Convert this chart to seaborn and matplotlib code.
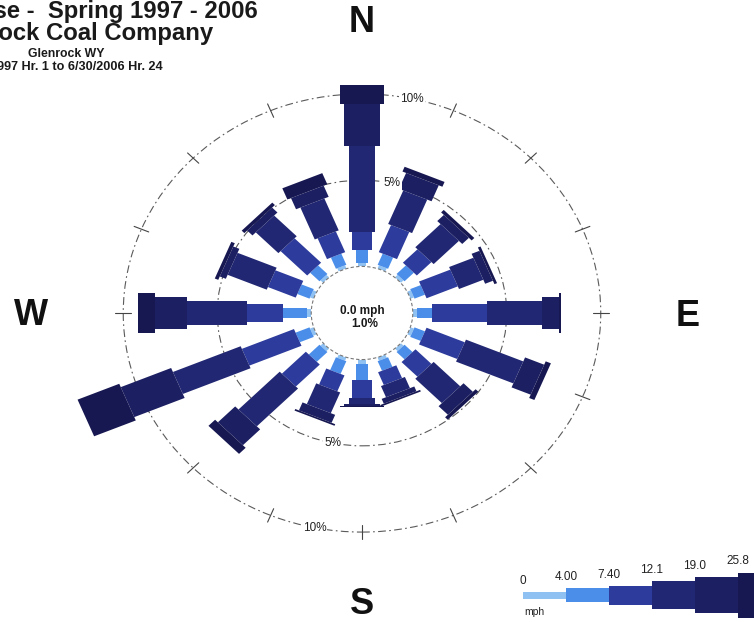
import numpy as np
import matplotlib
matplotlib.use("Agg")
import matplotlib.pyplot as plt
from matplotlib.patches import Circle
from matplotlib.transforms import Affine2D
import seaborn as sns

# ---- data -------------------------------------------------------------
directions = ["N", "NNE", "NE", "ENE", "E", "ESE", "SE", "SSE",
              "S", "SSW", "SW", "WSW", "W", "WNW", "NW", "NNW"]
bearings = np.arange(16) * 22.5

speed_edges = ["0", "4.00", "7.40", "12.1", "19.0", "25.8"]

# frequency (%) of each wind-speed class, per direction (N ... NNW)
freq_0_4 = [0.2, 0.2, 0.2, 0.2, 0.2, 0.2, 0.2, 0.2,
            0.25, 0.2, 0.2, 0.2, 0.2, 0.2, 0.2, 0.2]
freq_4_74 = [0.75, 0.7, 0.7, 0.6, 0.8, 0.6, 0.6, 0.6,
             0.95, 0.8, 0.8, 0.8, 1.3, 0.7, 0.7, 0.7]
freq_74_121 = [1.05, 1.7, 1.1, 1.8, 2.95, 2.2, 1.2, 0.8,
               1.0, 1.0, 1.8, 3.0, 1.9, 1.6, 2.0, 1.3]
freq_121_19 = [5.0, 2.1, 1.9, 1.4, 2.95, 3.3, 2.0, 0.7,
               0.35, 1.3, 3.1, 3.9, 3.2, 2.25, 1.7, 2.0]
freq_19_258 = [2.4, 1.0, 0.5, 0.45, 0.9, 1.1, 0.7, 0.3,
               0.15, 0.5, 1.3, 2.9, 1.7, 0.35, 0.4, 0.7]
freq_258_up = [1.1, 0.3, 0.2, 0.15, 0.1, 0.3, 0.2, 0.1,
               0.05, 0.1, 0.5, 2.4, 0.9, 0.2, 0.2, 0.7]

calm_pct = 1.0
rings = [5, 10]

# ---- styling ----------------------------------------------------------
class_colors = ["#8fc2f2", "#4a8eea", "#2c3b9c", "#212772", "#1c1f62", "#171852"]
class_widths = [0.45, 0.6, 1.05, 1.38, 1.88, 2.3]      # bar thickness, rose units
legend_heights = [7, 14, 19, 28, 36, 45]              # legend bar thickness, px
calm_radius = 2.7                                     # radius of the calm circle

sns.set_theme(style="white")
plt.rcParams["font.family"] = ["Liberation Sans", "DejaVu Sans"]

W_PX, H_PX = 754, 622
CX, CY = 362, 313
SX, SY = 18.8, 17.25          # px per rose unit (x, y)

fig = plt.figure(figsize=(W_PX / 100, H_PX / 100), dpi=100)
fig.patch.set_facecolor("white")

ax = fig.add_axes([0, 0, 1, 1])
ax.set_xlim(-CX / SX, (W_PX - CX) / SX)
ax.set_ylim(-(H_PX - CY) / SY, CY / SY)
ax.set_autoscale_on(False)
ax.axis("off")


def ray(bearing):
    """Transform that lays the x-axis along a compass bearing."""
    return Affine2D().rotate_deg(90 - bearing) + ax.transData


ring_style = (0, (7, 3, 1.5, 3))
for pct in rings:
    ax.add_patch(Circle((0, 0), calm_radius + pct, fill=False,
                        edgecolor="#5a5a5a", lw=0.8, ls=ring_style, zorder=1))

# radial ticks on the outer ring
r_out = calm_radius + rings[-1]
for b in bearings:
    ax.plot([r_out - 0.42, r_out + 0.42], [0, 0], color="#444444", lw=0.8,
            transform=ray(b), zorder=1)

# ring labels
for pct in rings:
    for b in (12, 191.5):
        ax.text(calm_radius + pct, 0, f"{pct}%", transform=ray(b),
                ha="center", va="center", fontsize=8.5, color="#222222",
                bbox=dict(boxstyle="square,pad=0.1", fc="white", ec="none"),
                zorder=4)

# stacked petals
classes = [freq_0_4, freq_4_74, freq_74_121, freq_121_19, freq_19_258, freq_258_up]
table = np.array(classes)
starts = calm_radius + np.vstack([np.zeros(16), np.cumsum(table, axis=0)[:-1]])
for k in range(len(classes)):
    for i, b in enumerate(bearings):
        ax.barh(0, table[k, i], left=starts[k, i], height=class_widths[k],
                color=class_colors[k], linewidth=0, transform=ray(b), zorder=2)

# calm circle
ax.add_patch(Circle((0, 0), calm_radius, facecolor="white", edgecolor="#777777",
                    lw=0.8, ls=(0, (3, 2)), zorder=3))
ax.text(0, 0.1, "0.0 mph", ha="center", va="center", fontsize=8.5,
        fontweight="bold", color="#1a1a1a", zorder=4)
ax.text(0.15, -0.65, f"{calm_pct:.1f}%", ha="center", va="center", fontsize=8.5,
        fontweight="bold", color="#1a1a1a", zorder=4)

# compass letters
for letter, (px, py) in {"N": (362, 22), "S": (362, 605),
                         "W": (31, 315), "E": (688, 316)}.items():
    fig.text(px / W_PX, 1 - py / H_PX, letter, ha="center", va="center",
             fontsize=26, fontweight="bold", color="#111111")

# title block
fig.text(258 / W_PX, 1 - 18 / H_PX, "Wind Rose -  Spring 1997 - 2006",
         ha="right", va="baseline", fontsize=17.2, fontweight="bold", color="#1a1a1a")
fig.text(213 / W_PX, 1 - 40 / H_PX, "Glenrock Coal Company",
         ha="right", va="baseline", fontsize=17.2, fontweight="bold", color="#1a1a1a")
fig.text(66 / W_PX, 1 - 57 / H_PX, "Glenrock WY",
         ha="center", va="baseline", fontsize=8.8, fontweight="bold", color="#1a1a1a")
fig.text(163 / W_PX, 1 - 70 / H_PX, "3/1/1997 Hr. 1 to 6/30/2006 Hr. 24",
         ha="right", va="baseline", fontsize=9.1, fontweight="bold", color="#1a1a1a")

# speed legend
leg = fig.add_axes([523 / W_PX, 2 / H_PX, 6 * 43 / W_PX, 50 / H_PX])
leg.set_xlim(0, 6)
leg.set_ylim(-25, 25)
leg.axis("off")
for k in range(6):
    leg.bar(k, legend_heights[k], bottom=-legend_heights[k] / 2, width=1,
            align="edge", color=class_colors[k], linewidth=0)
    leg.text(k, legend_heights[k] / 2 + 5, speed_edges[k], ha="center",
             va="bottom", fontsize=8.5, color="#222222")
leg.text(0.02, -17, "mph", ha="left", va="center", fontsize=7.5, color="#222222")

fig.savefig("out.png", dpi=100, facecolor="white")
